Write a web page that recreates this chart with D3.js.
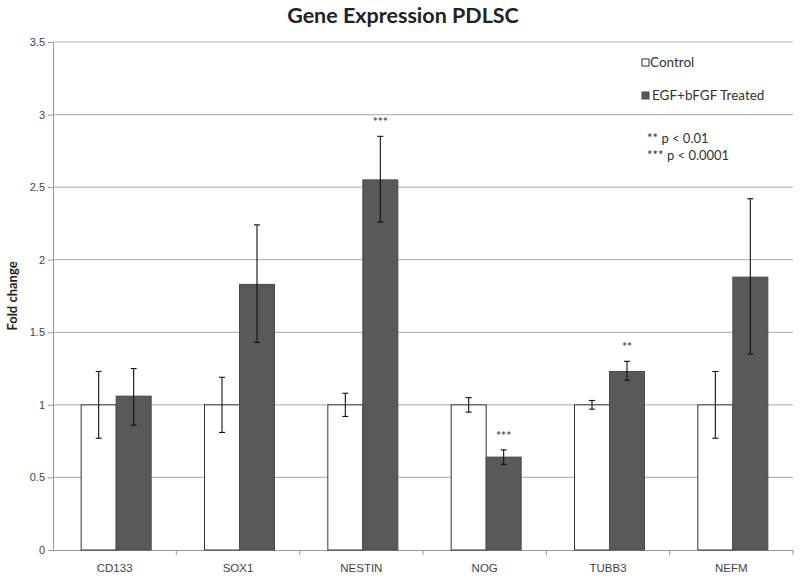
<!DOCTYPE html>
<html><head><meta charset="utf-8">
<script src="https://cdn.jsdelivr.net/npm/d3@7"></script>
<style>body{margin:0;background:#fff;} svg{display:block;font-family:Lato,"Open Sans",sans-serif;}</style>
</head><body>
<script>
const categories = ["CD133","SOX1","NESTIN","NOG","TUBB3","NEFM"];
const controlValues = [1,1,1,1,1,1];
const controlErrLow = [0.77,0.81,0.92,0.95,0.97,0.77];
const controlErrHigh = [1.23,1.19,1.08,1.05,1.03,1.23];
const treatedValues = [1.06,1.83,2.55,0.64,1.23,1.88];
const treatedErrLow = [0.86,1.43,2.26,0.59,1.17,1.35];
const treatedErrHigh = [1.25,2.24,2.85,0.69,1.30,2.42];
const significance = ["","","***","***","**",""];
const yTicks = [0,0.5,1,1.5,2,2.5,3,3.5];
const seriesNames = ["Control","EGF+bFGF Treated"];
const notes = ["** p < 0.01","*** p < 0.0001"];

const W=800,H=579;
const m={left:53,right:7,top:42,bottom:29};
const svg=d3.select("body").append("svg").attr("width",W).attr("height",H);
const x=d3.scaleBand().domain(categories).range([m.left,W-m.right]);
const y=d3.scaleLinear().domain([0,3.5]).range([H-m.bottom,m.top]);

// gridlines
svg.append("g").selectAll("line").data(yTicks.filter(d=>d>0)).join("line")
  .attr("x1",m.left).attr("x2",W-m.right).attr("y1",d=>y(d)).attr("y2",d=>y(d))
  .attr("stroke","#b8b8b8").attr("stroke-width",1.2);

// y axis
const ya=svg.append("g").attr("transform",`translate(${m.left},0)`)
  .call(d3.axisLeft(y).tickValues(yTicks).tickSize(5).tickFormat(d=>d));
ya.select(".domain").attr("stroke","#999");
ya.selectAll(".tick line").attr("stroke","#999");
ya.selectAll("text").attr("fill","#444").attr("font-size",11);

// x axis
const xa=svg.append("g").attr("transform",`translate(0,${y(0)})`)
  .call(d3.axisBottom(x).tickSize(0).tickPadding(14));
xa.select(".domain").attr("stroke","#999");
xa.selectAll("text").attr("fill","#444").attr("font-size",11.5);
svg.append("g").selectAll("line").data(categories.slice(1).concat(["end"])).join("line")
  .attr("x1",(d,i)=>m.left+x.bandwidth()*(i+1)).attr("x2",(d,i)=>m.left+x.bandwidth()*(i+1))
  .attr("y1",y(0)).attr("y2",y(0)+5).attr("stroke","#999");

const bw=35;
const data=categories.map((c,i)=>({c,i}));
const cx=d=>x(d.c)+x.bandwidth()/2+1.5;

// control bars
svg.append("g").selectAll("rect").data(data).join("rect")
  .attr("x",d=>cx(d)-bw).attr("width",bw)
  .attr("y",d=>y(controlValues[d.i])).attr("height",d=>y(0)-y(controlValues[d.i]))
  .attr("fill","#fff").attr("stroke","#333").attr("stroke-width",1);
// treated bars
svg.append("g").selectAll("rect").data(data).join("rect")
  .attr("x",d=>cx(d)).attr("width",bw)
  .attr("y",d=>y(treatedValues[d.i])).attr("height",d=>y(0)-y(treatedValues[d.i]))
  .attr("fill","#595959").attr("stroke","#4a4a4a").attr("stroke-width",1);

function errBars(xc,lo,hi){
  const g=svg.append("g").attr("stroke","#111").attr("stroke-width",1.1);
  data.forEach(d=>{
    const xx=xc(d);
    g.append("line").attr("x1",xx).attr("x2",xx).attr("y1",y(lo[d.i])).attr("y2",y(hi[d.i]));
    [lo[d.i],hi[d.i]].forEach(v=>g.append("line").attr("x1",xx-3).attr("x2",xx+3).attr("y1",y(v)).attr("y2",y(v)));
  });
}
errBars(d=>cx(d)-bw/2,controlErrLow,controlErrHigh);
errBars(d=>cx(d)+bw/2,treatedErrLow,treatedErrHigh);

// significance stars
svg.append("g").selectAll("text").data(data.filter(d=>significance[d.i])).join("text")
  .attr("x",d=>cx(d)+bw/2).attr("y",d=>y(treatedErrHigh[d.i])-10)
  .attr("text-anchor","middle").attr("font-size",12).attr("fill","#555").attr("font-weight","bold")
  .text(d=>significance[d.i]);

// title
svg.append("text").attr("x",403).attr("y",23).attr("text-anchor","middle")
  .attr("font-size",21.5).attr("font-weight","bold").attr("fill","#222").text("Gene Expression PDLSC");
// y label
svg.append("text").attr("transform","translate(17,296) rotate(-90)").attr("text-anchor","middle")
  .attr("font-size",13).attr("font-weight","bold").attr("fill","#222").text("Fold change");

// legend
const lg=svg.append("g");
seriesNames.forEach((s,i)=>{
  const ly=67+i*33;
  lg.append("rect").attr("x",642).attr("y",ly-8).attr("width",7).attr("height",7)
    .attr("fill",i?"#595959":"#fff").attr("stroke",i?"#4a4a4a":"#333");
  lg.append("text").attr("x",i?652:650).attr("y",ly).attr("font-size",13.5).attr("fill","#333").text(s);
});
notes.forEach((t,i)=>{
  svg.append("text").attr("x",647).attr("y",143+i*17).attr("font-size",13).attr("fill","#333").text(t);
});
</script>
</body></html>
